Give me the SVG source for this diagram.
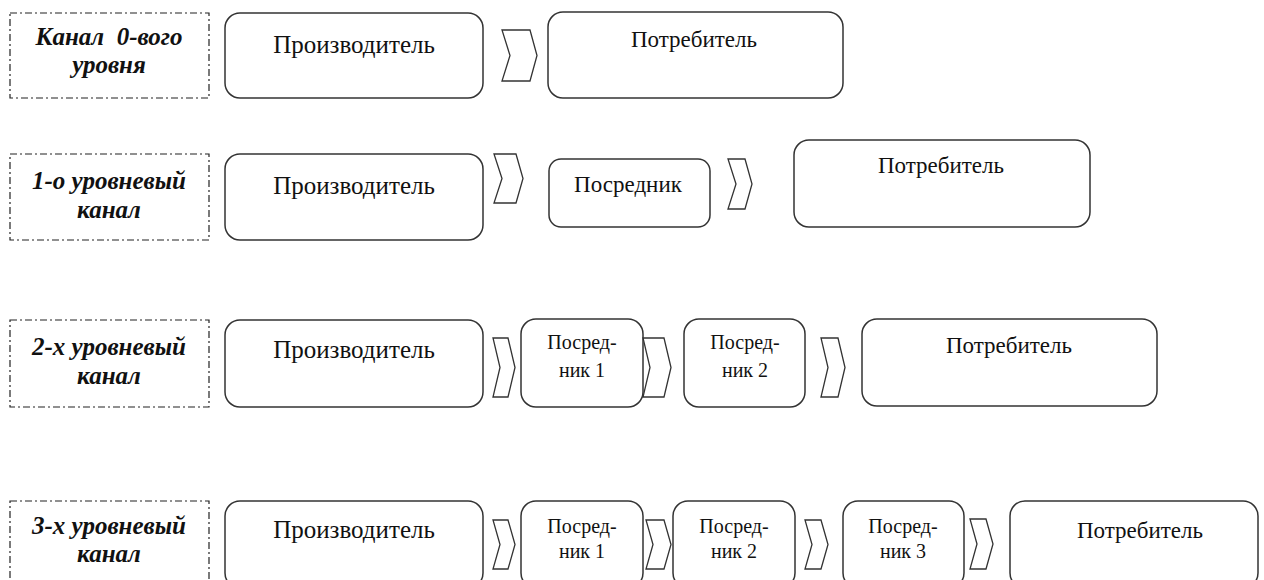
<svg xmlns="http://www.w3.org/2000/svg" width="1264" height="580" viewBox="0 0 1264 580">
<style>
.lbl{fill:none;stroke:#222;stroke-width:1.2;stroke-dasharray:7 3 2 3}
.box{fill:#fff;stroke:#333;stroke-width:1.5}
.chev{fill:#fff;stroke:#333;stroke-width:1.3;stroke-linejoin:miter}
text{font-family:"Liberation Serif","Tinos","DejaVu Serif",serif;fill:#111;text-anchor:middle}
.lt{font-size:25px;font-weight:bold;font-style:italic}
.big{font-size:25px}
.mid{font-size:23px}
.sm{font-size:20px}
</style>
<rect width="1264" height="580" fill="#fff"/>

<!-- Row 1 -->
<g id="label0"><rect class="lbl" x="10" y="13" width="199" height="85"/><text class="lt" x="109" y="45" xml:space="preserve">Канал  0-вого</text><text class="lt" x="109" y="73">уровня</text></g>
<g id="prod0"><rect class="box" x="225" y="13" width="258" height="85" rx="15"/><text class="big" x="354" y="53">Производитель</text></g>
<g id="cons0"><rect class="box" x="548" y="12" width="295" height="86" rx="15"/><text class="mid" x="694" y="47">Потребитель</text></g>

<!-- Row 2 -->
<g id="label1"><rect class="lbl" x="10" y="154" width="199" height="86"/><text class="lt" x="109" y="189">1-о уровневый</text><text class="lt" x="109" y="218">канал</text></g>
<g id="prod1"><rect class="box" x="225" y="154" width="258" height="86" rx="15"/><text class="big" x="354" y="194">Производитель</text></g>
<g id="mid1"><rect class="box" x="549" y="159" width="161" height="68" rx="12"/><text class="mid" x="628" y="192">Посредник</text></g>
<g id="cons1"><rect class="box" x="794" y="140" width="296" height="87" rx="15"/><text class="mid" x="941" y="173">Потребитель</text></g>

<!-- Row 3 -->
<g id="label2"><rect class="lbl" x="10" y="320" width="199" height="87"/><text class="lt" x="109" y="355">2-х уровневый</text><text class="lt" x="109" y="384">канал</text></g>
<g id="prod2"><rect class="box" x="225" y="320" width="258" height="87" rx="15"/><text class="big" x="354" y="358">Производитель</text></g>
<g id="mid21"><rect class="box" x="521" y="319" width="122" height="88" rx="15"/><text class="sm" x="582" y="349">Посред-</text><text class="sm" x="582" y="377">ник 1</text></g>
<g id="mid22"><rect class="box" x="684" y="319" width="121" height="88" rx="15"/><text class="sm" x="745" y="349">Посред-</text><text class="sm" x="745" y="377">ник 2</text></g>
<g id="cons2"><rect class="box" x="862" y="319" width="295" height="87" rx="15"/><text class="mid" x="1009" y="353">Потребитель</text></g>

<!-- Row 4 -->
<g id="label3"><rect class="lbl" x="10" y="501" width="199" height="87"/><text class="lt" x="109" y="534">3-х уровневый</text><text class="lt" x="109" y="562">канал</text></g>
<g id="prod3"><rect class="box" x="225" y="501" width="258" height="87" rx="15"/><text class="big" x="354" y="538">Производитель</text></g>
<g id="mid31"><rect class="box" x="521" y="501" width="122" height="87" rx="15"/><text class="sm" x="582" y="533">Посред-</text><text class="sm" x="582" y="558">ник 1</text></g>
<g id="mid32"><rect class="box" x="673" y="501" width="122" height="87" rx="15"/><text class="sm" x="734" y="533">Посред-</text><text class="sm" x="734" y="558">ник 2</text></g>
<g id="mid33"><rect class="box" x="843" y="501" width="121" height="87" rx="15"/><text class="sm" x="903" y="533">Посред-</text><text class="sm" x="903" y="558">ник 3</text></g>
<g id="cons3"><rect class="box" x="1010" y="501" width="248" height="87" rx="15"/><text class="mid" x="1140" y="538">Потребитель</text></g>

<!-- Connectors (chevrons) -->
<g id="connectors">
<polygon class="chev" points="502,30 530,30 537,55.5 530,81 502,81 510,55.5"/>
<polygon class="chev" points="494,154 516,154 523,178.5 516,203 494,203 502,178.5"/>
<polygon class="chev" points="728,159 745,159 752,184 745,209 728,209 736,184"/>
<polygon class="chev" points="493,338 508,338 515,367.5 508,397 493,397 500,367.5"/>
<polygon class="chev" points="643,338 664,338 671,367.5 664,397 643,397 650,367.5"/>
<polygon class="chev" points="821,338 838,338 845,367.5 838,397 821,397 828,367.5"/>
<polygon class="chev" points="493,520 508,520 515,544.5 508,569 493,569 500,544.5"/>
<polygon class="chev" points="646,520 664,520 671,544.5 664,569 646,569 653,544.5"/>
<polygon class="chev" points="805,520 821,520 828,544.5 821,569 805,569 812,544.5"/>
<polygon class="chev" points="970,519 986,519 993,544 986,569 970,569 977,544"/>
</g>
</svg>
